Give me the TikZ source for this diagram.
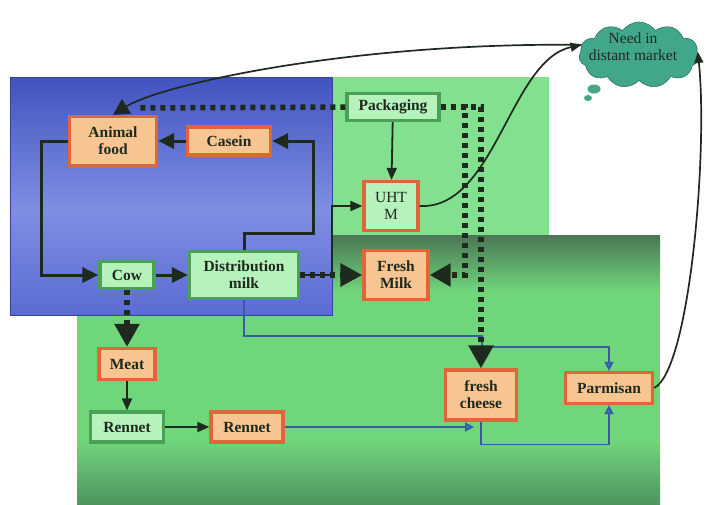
\documentclass[tikz,border=0pt]{standalone}
\usepackage{fontspec}
\setmainfont{Liberation Serif}
\usetikzlibrary{arrows.meta,shapes.symbols}
\definecolor{bluetop}{HTML}{4253C0}
\definecolor{bluemid}{HTML}{7F8EE2}
\definecolor{bluebot}{HTML}{5B6BD3}
\definecolor{lgreen}{HTML}{82E08E}
\definecolor{dgreen}{HTML}{4B7655}
\definecolor{bgreen}{HTML}{70D67C}
\definecolor{bgreenb}{HTML}{4F9460}
\definecolor{ofill}{HTML}{F7C592}
\definecolor{oline}{HTML}{E0663A}
\definecolor{gfill}{HTML}{B5F2BC}
\definecolor{gline}{HTML}{4AA055}
\definecolor{ink}{HTML}{1E2A1E}
\definecolor{bline}{HTML}{3A5AA6}
\definecolor{cloudteal}{HTML}{42A68A}
\tikzset{
  box/.style={draw, line width=3.2pt, align=center, inner sep=1pt,
    font=\fontsize{15.5}{17}\selectfont\bfseries, text=ink},
  regular/.style={font=\fontsize{15.5}{17}\selectfont},
  obox/.style={box, fill=ofill, draw=oline},
  gbox/.style={box, fill=gfill, draw=gline},
  mainarrow/.style={ink, line width=3pt, -{Triangle[length=16pt,width=15pt]}},
  thinarrow/.style={ink, line width=1.8pt, -{Triangle[length=12pt,width=10pt]}},
  dotline/.style={ink, line width=5.5pt, dash pattern=on 5pt off 5pt},
  bigtip/.style={-{Triangle[length=23pt,width=24pt]}},
  bluearrow/.style={bline, line width=1.5pt, -{Triangle[length=9pt,width=9pt,fill=bline!80!cyan]}},
  curveline/.style={ink, line width=1.7pt},
}
\begin{document}
\begin{tikzpicture}[x=1pt,y=-1pt]
\useasboundingbox (0,0) rectangle (708,504);
% backgrounds
\fill[bgreen] (77,235) rectangle (660,504);
\shade[top color=dgreen, bottom color=bgreen] (77,235) rectangle (660,292);
\shade[top color=bgreen, bottom color=bgreenb] (77,440) rectangle (660,504);
\fill[lgreen] (330,77) rectangle (549,235);
\shade[top color=bluetop, bottom color=bluemid] (10,77) rectangle (332,210);
\shade[top color=bluemid, bottom color=bluebot] (10,210) rectangle (332,315);
\draw[bluetop!80!black, line width=0.8pt] (10,77) rectangle (332,315);
% nodes
\node[obox, minimum width=87pt, minimum height=49pt] (af) at (113,141) {Animal\\food};
\node[obox, minimum width=83pt, minimum height=28pt] (cas) at (229,141) {Casein};
\node[gbox, minimum width=92pt, minimum height=27pt] (pack) at (393,107) {Packaging};
\node[box, fill=gfill, draw=oline, regular, minimum width=54pt, minimum height=49pt] (uht) at (391,206) {UHT\\M};
\node[obox, minimum width=64pt, minimum height=49pt] (fm) at (396,275) {Fresh\\Milk};
\node[gbox, minimum width=54pt, minimum height=27pt] (cow) at (127,275) {Cow};
\node[gbox, minimum width=109pt, minimum height=47pt] (dist) at (244,275) {Distribution\\milk};
\node[obox, minimum width=56pt, minimum height=31pt] (meat) at (127,364) {Meat};
\node[gbox, minimum width=73pt, minimum height=30pt] (ren1) at (127,427) {Rennet};
\node[obox, minimum width=72pt, minimum height=30pt] (ren2) at (247,427) {Rennet};
\node[obox, minimum width=71pt, minimum height=50pt] (fc) at (481,395) {fresh\\cheese};
\node[obox, minimum width=87pt, minimum height=31pt] (parm) at (609,388) {Parmisan};
% cloud
\fill[cloudteal] (594,89) ellipse (6.5pt and 4.5pt);
\fill[cloudteal] (588,98) ellipse (4pt and 3pt);
\node[cloud, cloud puffs=11, cloud puff arc=110, aspect=1.8, fill=cloudteal,
  draw=cloudteal!70!black, line width=0.6pt, minimum width=120pt,
  minimum height=66pt, inner sep=0pt] (cloud) at (639,55) {};
\node[align=center, font=\fontsize{15.5}{17}\selectfont, text=ink, inner sep=0pt] (cloudtext) at (633,47) {Need in\\distant market};
\coordinate (afend) at (138,108);
\coordinate (fcin) at (474,427);
% blue connectors
\draw[bluearrow] (dist.south) |- (482,336) -- (482,347) -| (parm.north);
\draw[bluearrow] (ren2.east) -- (fcin);
\draw[bluearrow] (fc.south) -- ++(0,23) -| (parm.south);
% main connectors
\draw[mainarrow] (af.west) -- ++(-26,0) |- (cow.west);
\draw[mainarrow] (cow) -- (dist);
\draw[mainarrow] (dist.north) -- (244,233) -- (313,233) |- (cas.east);
\draw[mainarrow] (cas) -- (af);
\draw[thinarrow] (dist.east) -- (332,275) |- (uht.west);
\draw[thinarrow] (pack) -- (uht);
\draw[thinarrow] (meat) -- (ren1);
\draw[thinarrow] (ren1) -- (ren2);
% dotted connectors
\draw[dotline, -{Triangle[length=22pt,width=22pt]}] (dist) -- (fm);
\draw[dotline] (pack.west) -- (afend);
\draw[dotline, -{Triangle[length=21pt,width=22pt]}] (pack.east) -| (465,275) -- (fm.east);
\draw[dotline, bigtip] (pack.east) -| (fc.north);
\draw[dotline, bigtip] (cow) -- (meat);
% curves
\draw[curveline, -{Triangle[length=16pt,width=17pt]}] (cloud.170) .. controls (350,42) and (160,85) .. (af.north);
\draw[curveline, -{Triangle[length=11pt,width=9pt]}] (uht.east) .. controls (495,210) and (510,60) .. (cloud.170);
\draw[curveline, -{Triangle[length=11pt,width=9pt]}] (parm.east) .. controls (690,370) and (708,150) .. (cloud.3);
\end{tikzpicture}
\end{document}
